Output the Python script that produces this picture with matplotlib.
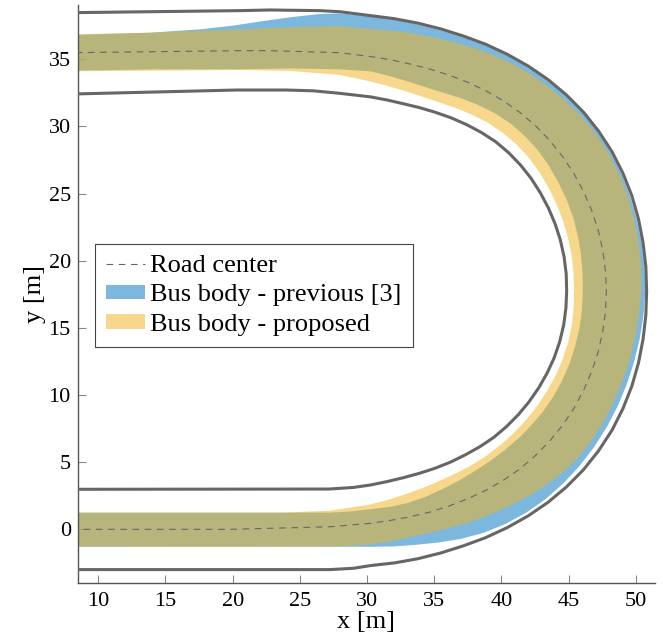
import numpy as np
import matplotlib.pyplot as plt
from matplotlib.patches import Patch
from matplotlib.lines import Line2D

plt.rcParams['font.family'] = ['Liberation Serif', 'DejaVu Serif']
plt.rcParams['font.size'] = 16

# the turn is read as radius vs. heading around the turn centre,
# the straight in/out parts as plain x / y points
turn_cx, turn_cy = 30.25, 17.75
turn_deg = list(range(-90, 91, 5))

# road centre
center_bot_x, center_bot_y = [8.0, 19.8, 27.24], [0.0, 0.0, 0.19]
center_r = [17.3, 17.15, 17.07, 17.05, 17.05, 17.08, 17.15, 17.22, 17.3, 17.35, 17.4, 17.45, 17.48,
            17.5, 17.52, 17.54, 17.55, 17.55, 17.55, 17.55, 17.55, 17.54, 17.52, 17.5, 17.48, 17.45,
            17.42, 17.38, 17.33, 17.27, 17.2, 17.14, 17.1, 17.1, 17.15, 17.28, 17.45]
center_top_x, center_top_y = [27.98, 22.77, 20.54, 8.0], [35.49, 35.64, 35.64, 35.49]

# outer road edge
outer_bot_x, outer_bot_y = [8.0, 27.2, 29.0], [-3.0, -3.0, -2.9]
outer_r = [20.45, 20.33, 20.25, 20.2, 20.2, 20.27, 20.35, 20.45, 20.55, 20.63, 20.7, 20.73, 20.75,
           20.73, 20.7, 20.65, 20.6, 20.57, 20.55, 20.57, 20.6, 20.65, 20.7, 20.73, 20.75, 20.73,
           20.7, 20.63, 20.55, 20.45, 20.35, 20.27, 20.2, 20.2, 20.25, 20.35, 20.5]
outer_top_x, outer_top_y = [27.98, 26.49, 22.77, 20.54, 8.0], [38.54, 38.62, 38.67, 38.62, 38.47]

# inner road edge
inner_bot_x, inner_bot_y = [8.0, 27.2, 29.0], [2.98, 3.0, 3.12]
inner_r = [14.45, 14.25, 14.12, 14.06, 14.05, 14.07, 14.1, 14.17, 14.25, 14.3, 14.35, 14.4, 14.45,
           14.5, 14.55, 14.58, 14.6, 14.6, 14.6, 14.62, 14.63, 14.63, 14.62, 14.61, 14.6, 14.6,
           14.58, 14.55, 14.5, 14.4, 14.3, 14.22, 14.15, 14.13, 14.15, 14.27, 14.45]
inner_top_x, inner_top_y = [28.0, 26.0, 24.0, 20.3, 8.0], [32.46, 32.65, 32.71, 32.71, 32.41]

# bus body - previous [3], outer side
prev_out_bot_x, prev_out_bot_y = [8.0, 26.0], [-1.3, -1.29]
prev_out_r = [19.05, 19.1, 19.2, 19.4, 19.65, 19.88, 20.05, 20.17, 20.25, 20.28, 20.3, 20.3, 20.3,
              20.3, 20.3, 20.32, 20.35, 20.4, 20.45, 20.47, 20.5, 20.53, 20.57, 20.62, 20.65, 20.65,
              20.62, 20.57, 20.5, 20.4, 20.3, 20.2, 20.12, 20.1, 20.15, 20.3, 20.45]
prev_out_top_x = [28.0, 26.49, 24.5, 22.77, 20.0, 17.6, 13.9, 8.0]
prev_out_top_y = [38.42, 38.37, 38.15, 37.92, 37.5, 37.23, 36.98, 36.81]

# bus body - previous [3], inner side
prev_in_bot_x, prev_in_bot_y = [8.0, 27.2, 28.8], [1.24, 1.24, 1.33]
prev_in_r = [16.25, 16.15, 16.03, 15.87, 15.7, 15.58, 15.5, 15.48, 15.5, 15.55, 15.6, 15.67, 15.72,
             15.75, 15.77, 15.78, 15.8, 15.8, 15.8, 15.84, 15.9, 15.97, 16.05, 16.1, 16.15, 16.22,
             16.28, 16.28, 16.25, 16.15, 16.0, 15.85, 15.72, 15.72, 15.85, 16.07, 16.35]
prev_in_top_x, prev_in_top_y = [27.98, 24.3, 20.5, 13.9, 8.0], [34.25, 34.32, 34.25, 34.25, 34.15]

# bus body - proposed, outer side
prop_out_bot_x, prop_out_bot_y = [8.0, 27.2], [-1.29, -1.29]
prop_out_r = [18.9, 18.7, 18.55, 18.55, 18.65, 18.8, 18.95, 19.15, 19.4, 19.62, 19.8, 19.87, 19.9,
              19.9, 19.92, 19.96, 20.0, 20.07, 20.15, 20.22, 20.28, 20.34, 20.4, 20.45, 20.48, 20.45,
              20.37, 20.27, 20.15, 20.03, 19.9, 19.73, 19.57, 19.47, 19.43, 19.45, 19.5]
prop_out_top_x = [27.98, 24.3, 20.5, 17.6, 13.9, 8.0]
prop_out_top_y = [37.48, 37.38, 37.23, 37.13, 36.98, 36.85]

# bus body - proposed, inner side
prop_in_bot_x, prop_in_bot_y = [8.0, 23.5, 27.24], [1.24, 1.24, 1.39]
prop_in_r = [15.9, 15.6, 15.35, 15.17, 15.05, 15.0, 15.0, 15.0, 15.0, 15.02, 15.05, 15.08, 15.1,
             15.15, 15.18, 15.2, 15.2, 15.18, 15.15, 15.17, 15.2, 15.22, 15.25, 15.28, 15.32, 15.37,
             15.4, 15.4, 15.35, 15.27, 15.15, 15.03, 14.95, 14.97, 15.1, 15.3, 15.6]
prop_in_top_x, prop_in_top_y = [27.98, 24.3, 20.5, 8.0], [33.83, 34.13, 34.2, 34.1]

x_ticks = [10, 15, 20, 25, 30, 35, 40, 45, 50]
y_ticks = [0, 5, 10, 15, 20, 25, 30, 35]


def edge(bot_x, bot_y, radii, top_x, top_y):
    a = np.radians(turn_deg)
    r = np.array(radii)
    xs = list(bot_x) + list(turn_cx + r * np.cos(a)) + list(top_x)
    ys = list(bot_y) + list(turn_cy + r * np.sin(a)) + list(top_y)
    return xs, ys


center_x, center_y = edge(center_bot_x, center_bot_y, center_r, center_top_x, center_top_y)
outer_x, outer_y = edge(outer_bot_x, outer_bot_y, outer_r, outer_top_x, outer_top_y)
inner_x, inner_y = edge(inner_bot_x, inner_bot_y, inner_r, inner_top_x, inner_top_y)
po_x, po_y = edge(prev_out_bot_x, prev_out_bot_y, prev_out_r, prev_out_top_x, prev_out_top_y)
pi_x, pi_y = edge(prev_in_bot_x, prev_in_bot_y, prev_in_r, prev_in_top_x, prev_in_top_y)
qo_x, qo_y = edge(prop_out_bot_x, prop_out_bot_y, prop_out_r, prop_out_top_x, prop_out_top_y)
qi_x, qi_y = edge(prop_in_bot_x, prop_in_bot_y, prop_in_r, prop_in_top_x, prop_in_top_y)

blue = '#0575c0'
yellow = '#eeb422'
road_grey = '#666666'
band_alpha = 0.52

fig = plt.figure(figsize=(6.63, 6.33), dpi=100)
ax = fig.add_axes([0.1172, 0.0785, 0.8707, 0.9136])

ax.fill(po_x + pi_x[::-1], po_y + pi_y[::-1], color=blue, alpha=band_alpha, lw=0, zorder=1)
ax.fill(qo_x + qi_x[::-1], qo_y + qi_y[::-1], color=yellow, alpha=band_alpha, lw=0, zorder=2)

ax.plot(outer_x, outer_y, color=road_grey, lw=2.2, zorder=3)
ax.plot(inner_x, inner_y, color=road_grey, lw=2.2, zorder=3)
ax.plot(center_x, center_y, color=road_grey, lw=0.8, dashes=(6, 5), zorder=4)

ax.set_xlim(8.47, 51.42)
ax.set_ylim(-4.02, 39.04)
ax.set_xticks(x_ticks)
ax.set_yticks(y_ticks)

for s in ['top', 'right']:
    ax.spines[s].set_visible(False)
for s in ['left', 'bottom']:
    ax.spines[s].set_color('#555555')
    ax.spines[s].set_linewidth(1.0)
ax.tick_params(direction='in', length=6, width=0.8, color='#888888')
ax.tick_params(axis='x', pad=6)
ax.tick_params(axis='y', pad=5)

ax.set_xlabel('x [m]', fontsize=19, labelpad=0)
ax.set_ylabel('y [m]', fontsize=19, labelpad=2)

handles = [Line2D([], [], color=road_grey, lw=0.8, dashes=(6, 5)),
           Patch(facecolor=blue, alpha=band_alpha, lw=0),
           Patch(facecolor=yellow, alpha=band_alpha, lw=0)]
labels = ['Road center', 'Bus body - previous [3]', 'Bus body - proposed']
leg = ax.legend(handles, labels, loc='upper left', fontsize=19,
                bbox_to_anchor=(95 / 663, 1 - 244 / 633), bbox_transform=fig.transFigure,
                fancybox=False, framealpha=1, edgecolor='#444444',
                borderaxespad=0, borderpad=0.42, handlelength=1.48,
                handleheight=0.48, handletextpad=0.2, labelspacing=0.28)
leg.get_frame().set_linewidth(0.8)

fig.savefig('out.png', dpi=100)
